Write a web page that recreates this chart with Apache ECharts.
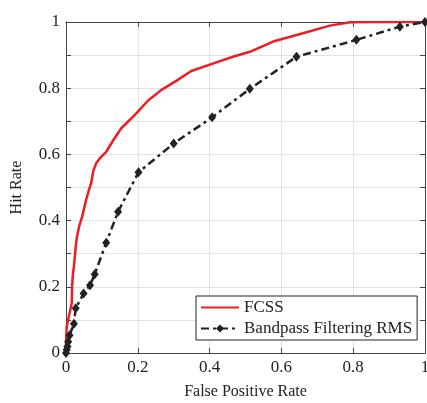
<!DOCTYPE html>
<html>
<head>
<meta charset="utf-8">
<script src="https://cdn.jsdelivr.net/npm/echarts@6/dist/echarts.min.js"></script>
<style>
  html, body { margin: 0; padding: 0; background: #fff; }
  #chart { width: 427px; height: 403px; }
</style>
</head>
<body>
<div id="chart"></div>
<script>
// ROC data
var fcssX = [0, 0, 0.002, 0.010, 0.016, 0.017, 0.019, 0.022, 0.027, 0.030, 0.036, 0.045, 0.056, 0.063, 0.070, 0.076, 0.084, 0.094, 0.112, 0.133, 0.154, 0.196, 0.228, 0.266, 0.307, 0.349, 0.419, 0.465, 0.512, 0.577, 0.660, 0.735, 0.791, 0.847, 1];
var fcssY = [0, 0.03, 0.08, 0.12, 0.15, 0.20, 0.236, 0.26, 0.32, 0.347, 0.38, 0.412, 0.462, 0.49, 0.513, 0.55, 0.573, 0.588, 0.608, 0.645, 0.679, 0.724, 0.762, 0.795, 0.822, 0.852, 0.878, 0.895, 0.910, 0.941, 0.966, 0.989, 0.999, 1.0, 1];

var bpX = [0, 0.002, 0.004, 0.006, 0.010, 0.022, 0.027, 0.049, 0.067, 0.080, 0.112, 0.145, 0.202, 0.300, 0.407, 0.512, 0.642, 0.809, 0.930, 1];
var bpY = [0, 0.01, 0.02, 0.034, 0.054, 0.088, 0.135, 0.180, 0.205, 0.238, 0.333, 0.427, 0.546, 0.633, 0.712, 0.798, 0.895, 0.946, 0.986, 1];

var seriesNames = ['FCSS', 'Bandpass Filtering RMS'];

function pairs(xs, ys) {
    return xs.map(function (x, i) { return [x, ys[i]]; });
}

var chartDom = document.getElementById('chart');
var myChart = echarts.init(chartDom);
var option;

var font = 'Liberation Serif';
var axisColor = '#444';

function labelFmt(v) {
    // labels only on every other y tick
    return Math.round(v * 10) % 2 ? '' : String(Math.round(v * 10) / 10);
}

// box axes (top / right) carry ticks only
function boxAxis(pos, interval) {
    return {
        type: 'value',
        position: pos,
        min: 0,
        max: 1,
        interval: interval,
        axisLine: { show: true, onZero: false, lineStyle: { color: axisColor, width: 1 } },
        axisTick: { show: true, inside: true, length: 5, lineStyle: { color: axisColor } },
        axisLabel: { show: false },
        splitLine: { show: false }
    };
}

option = {
    animation: false,
    backgroundColor: '#fff',
    textStyle: { fontFamily: font },
    grid: {
        left: 66,
        right: 2,
        top: 22,
        bottom: 50,
        outerBoundsMode: 'none'
    },
    legend: {
        data: [
            { name: seriesNames[0], itemStyle: { opacity: 0 } },
            { name: seriesNames[1] }
        ],
        orient: 'vertical',
        left: 196,
        top: 296,
        itemWidth: 38,
        itemHeight: 10,
        itemGap: 4,
        padding: [3, 5, 3, 4],
        borderColor: '#222',
        borderWidth: 1,
        backgroundColor: '#fff',
        textStyle: { fontFamily: font, fontSize: 17, color: '#222' }
    },
    xAxis: [{
        type: 'value',
        min: 0,
        max: 1,
        interval: 0.2,
        name: 'False Positive Rate',
        nameLocation: 'middle',
        nameGap: 31,
        nameTextStyle: { fontFamily: font, fontSize: 16, color: '#222' },
        axisLine: { show: true, onZero: false, lineStyle: { color: axisColor, width: 1 } },
        axisTick: { show: true, inside: true, length: 5, lineStyle: { color: axisColor } },
        axisLabel: { fontFamily: font, fontSize: 17, color: '#222', margin: 6 },
        splitLine: { show: true, lineStyle: { color: '#e3e3e3', width: 1 } }
    }, boxAxis('top', 0.2)],
    yAxis: [{
        type: 'value',
        min: 0,
        max: 1,
        interval: 0.1,
        name: 'Hit Rate',
        nameLocation: 'middle',
        nameGap: 41,
        nameTextStyle: { fontFamily: font, fontSize: 16, color: '#222' },
        axisLine: { show: true, onZero: false, lineStyle: { color: axisColor, width: 1 } },
        axisTick: { show: true, inside: true, length: 5, lineStyle: { color: axisColor } },
        axisLabel: { fontFamily: font, fontSize: 17, color: '#222', margin: 6, formatter: labelFmt },
        splitLine: { show: true, lineStyle: { color: '#e3e3e3', width: 1 } }
    }, boxAxis('right', 0.1)],
    series: [{
        name: seriesNames[0],
        type: 'line',
        data: pairs(fcssX, fcssY),
        showSymbol: false,
        symbol: 'none',
        color: '#ee1c25',
        lineStyle: { color: '#ee1c25', width: 2.5 },
        z: 3
    }, {
        name: seriesNames[1],
        type: 'line',
        data: pairs(bpX, bpY),
        symbol: 'diamond',
        symbolSize: [8, 10],
        color: '#222',
        itemStyle: { color: '#222' },
        lineStyle: { color: '#222', width: 2.5, type: [8, 4, 3, 4] },
        z: 4
    }]
};

option && myChart.setOption(option);
</script>
</body>
</html>
